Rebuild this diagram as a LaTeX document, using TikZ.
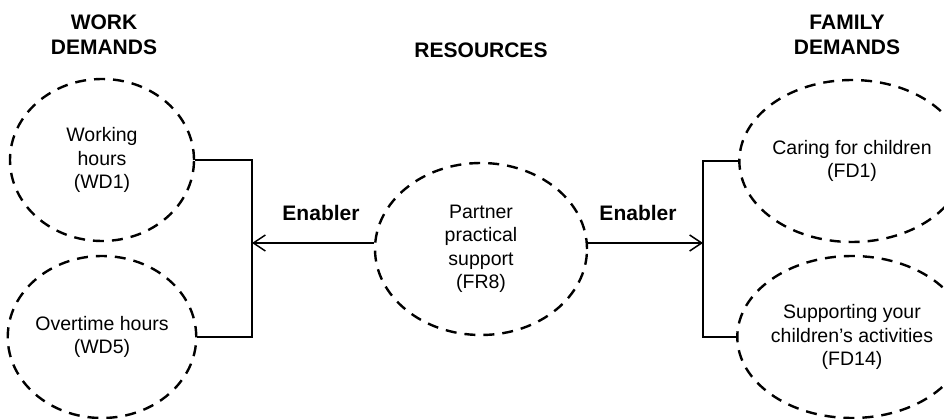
\documentclass[tikz,border=0pt]{standalone}
\usepackage{fontspec}
\setmainfont{Liberation Sans}
\usetikzlibrary{shapes.geometric,arrows.meta}
\begin{document}
\begin{tikzpicture}[x=1pt,y=-1pt,
  oval/.style={ellipse, draw, line width=2.4pt, dash pattern=on 11pt off 8pt,
    minimum width=184pt, minimum height=162pt, inner sep=0pt, align=center,
    font=\fontsize{19.5}{23.5}\selectfont},
  head/.style={font=\bfseries\fontsize{21}{25}\selectfont, align=center},
  link/.style={line width=1.5pt},
  arr/.style={link, -{Straight Barb[length=12pt,width=16pt,line width=1.5pt]}}]
\useasboundingbox (0,0) rectangle (944,419);
\node[oval] (wd1) at (102,160) {Working\\hours\\(WD1)};
\node[oval] (wd5) at (102,337) {Overtime hours\\(WD5)};
\node[oval, minimum width=212pt, minimum height=172pt] (fr8) at (481,249) {Partner\\practical\\support\\(FR8)};
\node[oval] (fd1) at (852,161) {Caring for children\\(FD1)};
\node[oval] (fd14) at (852,337) {Supporting your\\children’s activities\\(FD14)};
\node[head] (hw) at (104,35) {WORK\\DEMANDS};
\node[head] (hr) at (481,50) {RESOURCES};
\node[head] (hf) at (847,35) {FAMILY\\DEMANDS};
\node[head] (el) at (321,213) {Enabler};
\node[head] (er) at (638,213) {Enabler};
\coordinate (jl) at (252,243);
\coordinate (jr) at (703,243);
\draw[link] (wd1.east) -| (jl) |- (wd5.east);
\draw[link] (fd1.west) -| (jr) |- (fd14.west);
\draw[arr] (fr8.west |- jl) -- (jl);
\draw[arr] (fr8.east |- jr) -- (jr);
\end{tikzpicture}
\end{document}
